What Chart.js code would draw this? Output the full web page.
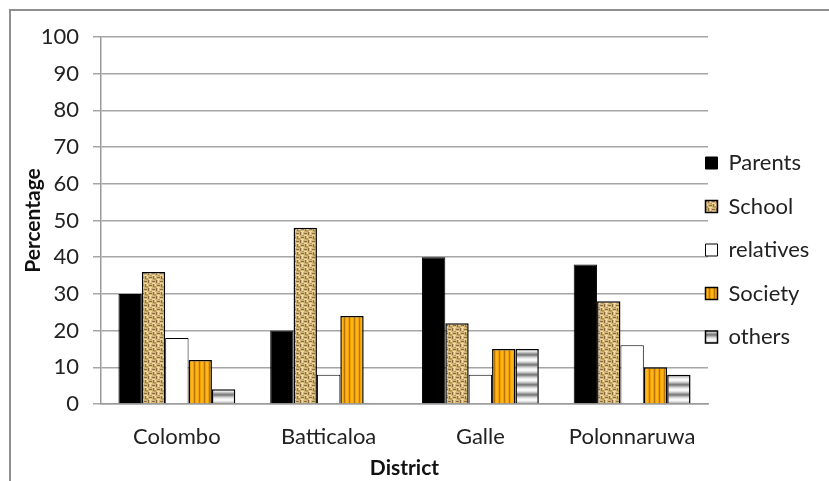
<!DOCTYPE html>
<html>
<head>
<meta charset="utf-8">
<script src="https://cdn.jsdelivr.net/npm/chart.js@4"></script>
<style>
  body { margin: 0; background: #fff; }
  #frame { position: absolute; left: 9px; top: 9px; width: 830px; height: 480px;
           border-left: 2px solid #8f8f8f; border-top: 2px solid #8f8f8f; }
  #chart { position: absolute; left: 0; top: 0; }
</style>
</head>
<body>
<div id="frame"></div>
<canvas id="chart" width="829" height="481"></canvas>
<script>
const districts = ['Colombo', 'Batticaloa', 'Galle', 'Polonnaruwa'];
const parents = [30, 20, 40, 38];
const school = [36, 48, 22, 28];
const relatives = [18, 8, 8, 16];
const society = [12, 24, 15, 10];
const others = [4, 0, 15, 8];
const yMax = 100;
const yStep = 10;

const ctx = document.getElementById('chart').getContext('2d');

// small tiles used as bar fills
const makePattern = (w, h, draw) => {
  const c = document.createElement('canvas');
  c.width = w;
  c.height = h;
  draw(c.getContext('2d'));
  return ctx.createPattern(c, 'repeat');
};

const burlap = makePattern(8, 8, (g) => {
  g.fillStyle = '#d2b677';
  g.fillRect(0, 0, 8, 8);
  g.fillStyle = '#8f6d3a';
  g.fillRect(0, 1, 3, 1);
  g.fillRect(4, 0, 1, 3);
  g.fillRect(5, 5, 3, 1);
  g.fillRect(1, 4, 1, 3);
  g.fillStyle = '#f0dca8';
  g.fillRect(0, 3, 3, 1);
  g.fillRect(6, 0, 1, 3);
  g.fillRect(5, 7, 3, 1);
  g.fillRect(3, 4, 1, 3);
  g.fillStyle = '#b8985c';
  g.fillRect(2, 6, 2, 2);
  g.fillRect(6, 3, 2, 1);
});

const orangeStripes = makePattern(5, 1, (g) => {
  g.fillStyle = '#f0a000';
  g.fillRect(0, 0, 5, 1);
  g.fillStyle = '#ffb41c';
  g.fillRect(1, 0, 2, 1);
  g.fillStyle = '#b87400';
  g.fillRect(4, 0, 1, 1);
});

const greyBands = makePattern(1, 10, (g) => {
  const rows = ['#f6f6f6', '#e2e2e2', '#c4c4c4', '#a0a0a0', '#7e7e7e', '#8e8e8e', '#b4b4b4', '#d6d6d6', '#ececec', '#fafafa'];
  rows.forEach((col, i) => {
    g.fillStyle = col;
    g.fillRect(0, i, 1, 1);
  });
});

const font = 'Lato';

// the legend sits closer to the plot than Chart.js padding allows
const legendShift = {
  id: 'legendShift',
  afterLayout(chart) {
    const lg = chart.legend;
    lg.left -= 24;
    lg.top -= 9;
    lg.bottom -= 9;
  },
};

new Chart(ctx, {
  type: 'bar',
  data: {
    labels: districts,
    datasets: [
      { label: 'Parents', data: parents, backgroundColor: '#000', borderColor: '#000', borderWidth: 1 },
      { label: 'School', data: school, backgroundColor: burlap, borderColor: '#000', borderWidth: 1.5 },
      { label: 'relatives', data: relatives, backgroundColor: '#fff', borderColor: '#000', borderWidth: 1 },
      { label: 'Society', data: society, backgroundColor: orangeStripes, borderColor: '#000', borderWidth: 1.5 },
      { label: 'others', data: others, backgroundColor: greyBands, borderColor: '#000', borderWidth: 1.5 },
    ],
  },
  options: {
    responsive: false,
    animation: false,
    layout: { padding: { left: 10, top: 37, right: 0, bottom: 0 } },
    datasets: {
      bar: { barPercentage: 1, categoryPercentage: 0.77 },
    },
    plugins: {
      legend: {
        position: 'right',
        maxWidth: 121,
        labels: {
          boxWidth: 12,
          boxHeight: 12,
          padding: 21.5,
          color: '#222',
          font: { family: font, size: 22 },
        },
      },
      tooltip: { enabled: false },
    },
    scales: {
      x: {
        grid: { display: false },
        border: { display: true, color: '#9a9a9a', width: 1.5 },
        ticks: { color: '#222', padding: 12, font: { family: font, size: 22 } },
        title: {
          display: true,
          text: 'District',
          color: '#111',
          padding: { top: -3, bottom: 0 },
          font: { family: font, size: 21, weight: 'bold' },
        },
        afterFit(scale) {
          scale.height = 77;
        },
      },
      y: {
        min: 0,
        max: yMax,
        grid: { color: '#a6a6a6', lineWidth: 1.5, tickLength: 8 },
        border: { display: true, color: '#9a9a9a', width: 1.5 },
        ticks: { stepSize: yStep, color: '#222', padding: 14, font: { family: font, size: 22 } },
        title: {
          display: true,
          text: 'Percentage',
          color: '#111',
          padding: { top: 11, bottom: 0 },
          font: { family: font, size: 21, weight: 'bold' },
        },
        afterFit(scale) {
          scale.width = 91;
        },
      },
    },
  },
  plugins: [legendShift],
});
</script>
</body>
</html>
